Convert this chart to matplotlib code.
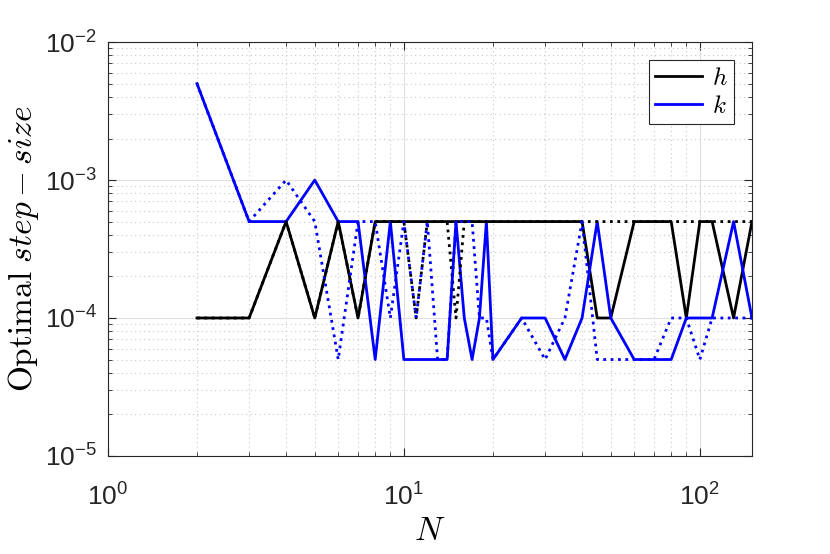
import numpy as np
import matplotlib
matplotlib.use('Agg')
import matplotlib.pyplot as plt
from matplotlib.ticker import LogLocator, NullFormatter

plt.rcParams['font.family'] = ['Liberation Sans', 'DejaVu Sans']

# N values (grid of problem sizes)
N = [2, 3, 4, 5, 6, 7, 8, 9, 10, 11, 12, 13, 14, 15, 16, 17, 18, 19, 20,
     25, 30, 35, 40, 45, 50, 60, 70, 80, 90, 100, 110, 130, 150]

# optimal step sizes, solid lines
h_opt = [1e-4, 1e-4, 5e-4, 1e-4, 5e-4, 1e-4, 5e-4, 5e-4, 5e-4, 5e-4, 5e-4, 5e-4, 5e-4,
         5e-4, 5e-4, 5e-4, 5e-4, 5e-4, 5e-4,
         5e-4, 5e-4, 5e-4, 5e-4, 1e-4, 1e-4, 5e-4, 5e-4, 5e-4, 1e-4, 5e-4, 5e-4, 1e-4, 5e-4]
k_opt = [5e-3, 5e-4, 5e-4, 1e-3, 5e-4, 5e-4, 5e-5, 5e-4, 5e-5, 5e-5, 5e-5, 5e-5, 5e-5,
         5e-4, 1e-4, 5e-5, 1e-4, 5e-4, 5e-5,
         1e-4, 1e-4, 5e-5, 1e-4, 5e-4, 1e-4, 5e-5, 5e-5, 5e-5, 1e-4, 1e-4, 1e-4, 5e-4, 1e-4]

# second case, dotted lines
h_opt2 = [1e-4, 1e-4, 5e-4, 1e-4, 5e-4, 1e-4, 5e-4, 5e-4, 5e-4, 1e-4, 5e-4, 5e-4, 5e-4,
          1e-4, 5e-4, 5e-4, 5e-4, 5e-4, 5e-4,
          5e-4, 5e-4, 5e-4, 5e-4, 5e-4, 5e-4, 5e-4, 5e-4, 5e-4, 5e-4, 5e-4, 5e-4, 5e-4, 5e-4]
k_opt2 = [5e-3, 5e-4, 1e-3, 5e-4, 5e-5, 5e-4, 5e-4, 1e-4, 5e-4, 1e-4, 5e-4, 5e-5, 5e-5,
          5e-4, 5e-4, 5e-4, 1e-4, 1e-4, 5e-5,
          1e-4, 5e-5, 1e-4, 5e-4, 5e-5, 5e-5, 5e-5, 5e-5, 1e-4, 1e-4, 5e-5, 1e-4, 1e-4, 1e-4]

fig = plt.figure(figsize=(8.3, 5.54), dpi=100)
ax = fig.add_axes([0.130, 0.177, 0.776, 0.747])

lw = 2.0
ax.loglog(N, h_opt, '-', color='k', lw=lw, label='$h$')
ax.loglog(N, k_opt, '-', color='b', lw=lw, label='$k$')
ax.loglog(N, h_opt2, ':', color='k', lw=lw)
ax.loglog(N, k_opt2, ':', color='b', lw=lw)

ax.set_xlim(1, 150)
ax.set_ylim(1e-5, 1e-2)

ax.xaxis.set_major_locator(LogLocator(base=10, numticks=10))
ax.yaxis.set_major_locator(LogLocator(base=10, numticks=10))
ax.xaxis.set_minor_locator(LogLocator(base=10, subs=np.arange(2, 10), numticks=20))
ax.yaxis.set_minor_locator(LogLocator(base=10, subs=np.arange(2, 10), numticks=20))
ax.xaxis.set_minor_formatter(NullFormatter())
ax.yaxis.set_minor_formatter(NullFormatter())

ax.grid(True, which='major', color='#dedede', lw=0.8, ls='-')
ax.grid(True, which='minor', color='#c8c8c8', lw=0.8, ls=(0, (1, 3)))
ax.set_axisbelow(True)

ax.tick_params(which='both', direction='in', top=True, right=True, colors='#262626')
ax.tick_params(which='major', length=6, labelsize=19)
ax.tick_params(axis='x', which='major', pad=20)
ax.tick_params(axis='y', which='major', pad=8)
ax.tick_params(which='minor', length=3)
for s in ax.spines.values():
    s.set_color('#262626')
    s.set_linewidth(0.8)

ax.set_xlabel('$N$', fontsize=24, math_fontfamily='cm', labelpad=4)
ax.set_ylabel(r'$\mathrm{Optimal}\ step-size$', fontsize=24, math_fontfamily='cm')
ax.yaxis.set_label_coords(-0.104, 0.5)

leg = ax.legend(loc='upper right', fontsize=18, fancybox=False, framealpha=1,
                edgecolor='#262626', handlelength=1.9, borderpad=0.25,
                labelspacing=0.15, handletextpad=0.4, borderaxespad=0.7)
leg.get_frame().set_linewidth(0.8)
for t in leg.get_texts():
    t.set_math_fontfamily('cm')

fig.savefig('out.png', dpi=100)
